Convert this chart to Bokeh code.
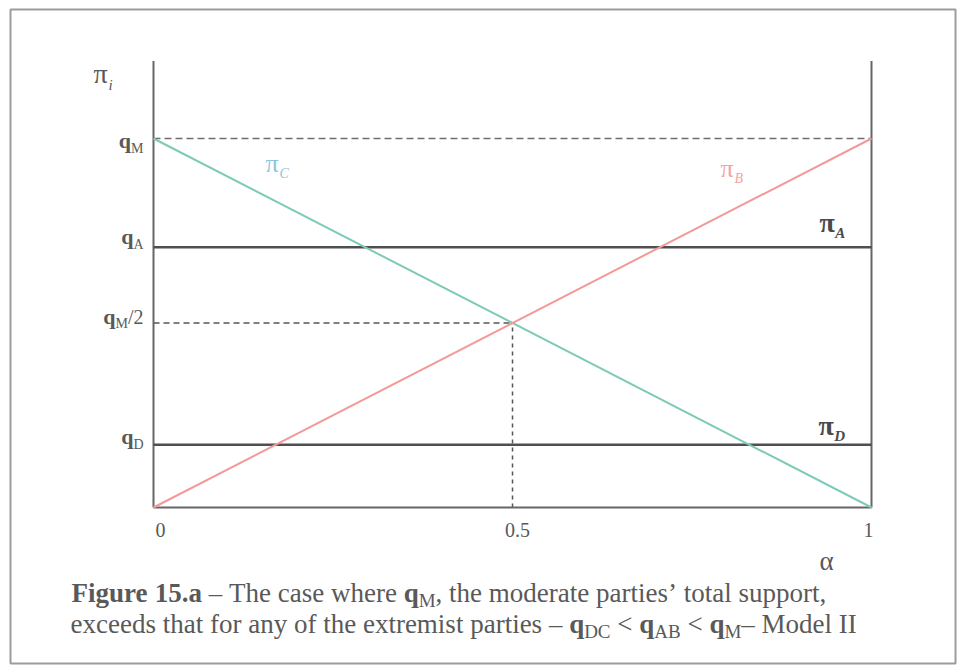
from bokeh.plotting import figure
from bokeh.models import Range1d
from bokeh.core.properties import value
from bokeh.embed import file_html
from bokeh.resources import INLINE

# ---- model quantities (q_M normalised to 1) ----
alpha_ends = [0.0, 1.0]
q_M = 1.0
q_A = 0.705
q_D = 0.17
pi_A = [q_A, q_A]
pi_B = [0.0, q_M]
pi_C = [q_M, 0.0]
pi_D = [q_D, q_D]
alpha_mid = 0.5

x_ticks = [0.0, 0.5, 1.0]
x_tick_labels = ["0", "0.5", "1"]
y_ticks = [q_D, q_M / 2, q_A, q_M]
y_tick_subs = ["D", "M", "A", "M"]
y_tick_suffix = ["", "/2", "", ""]

# ---- page layout (pixels) ----
W, H = 957, 668
X0, XS = 153.0, 718.0      # pixel column of alpha=0 and pixels per unit alpha
Y0, YS = 507.0, 369.0      # pixel row of pi=0 and pixels per unit pi
AXIS_TOP = 1.21            # axes run a little above q_M
BASE_K = 0.36              # baseline correction of the svg text renderer (em)

def dx(px):
    return (px - X0) / XS

def dy(py):
    return (Y0 - py) / YS

p = figure(width=W, height=H,
           x_range=Range1d(dx(0), dx(W)), y_range=Range1d(dy(H), dy(0)),
           x_axis_type=None, y_axis_type=None,
           toolbar_location=None, output_backend="svg",
           outline_line_color=None, background_fill_color="white",
           border_fill_color="white")
p.min_border = 0
p.min_border_left = p.min_border_right = p.min_border_top = p.min_border_bottom = 0

FONT = value("Liberation Serif")
GREY = "#595959"

# Times-compatible advance widths (per 1000 em)
REG = {' ': 250, '–': 500, ',': 250, '.': 250, '’': 333, '<': 564, '/': 278,
       'a': 444, 'b': 500, 'c': 444, 'd': 500, 'e': 444, 'f': 333, 'g': 500,
       'h': 500, 'i': 278, 'j': 278, 'k': 500, 'l': 278, 'm': 778, 'n': 500,
       'o': 500, 'p': 500, 'q': 500, 'r': 333, 's': 389, 't': 278, 'u': 500,
       'v': 500, 'w': 722, 'x': 500, 'y': 500, 'z': 444,
       'A': 722, 'B': 667, 'C': 667, 'D': 722, 'I': 333, 'M': 889, 'T': 611,
       'π': 540}
BOLD = {' ': 250, '.': 250, 'F': 611, 'i': 278, 'g': 500, 'u': 556, 'r': 444,
        'e': 444, 'a': 500, 'q': 556, 'π': 560}

def width(s, size, style):
    tbl = BOLD if "bold" in style else REG
    return sum(tbl.get(ch, REG.get(ch, 500)) for ch in s) * size / 1000.0

def put(x, base, text, size, style, color, align="left"):
    p.text(x=[dx(x)], y=[dy(base - BASE_K * size)], text=[text],
           text_font=FONT, text_font_size=f"{size}px",
           text_font_style=style, text_color=color,
           text_align=align, text_baseline="alphabetic")

def runs(x0, base, parts, color=GREY, align="left"):
    """Lay out rich text runs: (text, size, style, baseline shift px)."""
    total = sum(width(t, s, st) for t, s, st, _ in parts)
    x = x0 - total if align == "right" else x0
    for text, size, style, shift in parts:
        i = 0
        while i < len(text):
            if text[i] == ' ':
                i += 1
                continue
            j = i
            while j < len(text) and text[j] != ' ':
                j += 1
            off = width(text[:i], size, style)
            put(x + off, base + shift, text[i:j], size, style, color)
            i = j
        x += width(text, size, style)

# ---- outer frame ----
p.quad(left=[dx(10)], right=[dx(955)], top=[dy(9)], bottom=[dy(663)],
       fill_color=None, line_color="#9c9c9c", line_width=2)

# ---- reference lines ----
p.line(alpha_ends, [q_M, q_M], line_color="#6e6e6e", line_width=1.5, line_dash="7 4")
p.line([0.0, alpha_mid], [q_M / 2, q_M / 2], line_color="#555555", line_width=1.5,
       line_dash="6 4")
p.line([alpha_mid, alpha_mid], [0.0, q_M / 2], line_color="#555555", line_width=1.5,
       line_dash="4 4")

# ---- axes frame ----
p.line([0.0, 0.0], [0.0, AXIS_TOP], line_color="#666666", line_width=2)
p.line([1.0, 1.0], [0.0, AXIS_TOP], line_color="#666666", line_width=2)
p.line(alpha_ends, [0.0, 0.0], line_color="#666666", line_width=2)

# ---- payoff lines ----
p.line(alpha_ends, pi_A, line_color="#4f4f4f", line_width=2.5)
p.line(alpha_ends, pi_D, line_color="#4f4f4f", line_width=2.5)
p.line(alpha_ends, pi_C, line_color="#7ccab7", line_width=2)
p.line(alpha_ends, pi_B, line_color="#f39a98", line_width=2)

# ---- y tick labels ----
y_shift = [0, 1, -3, 10]
for v, sub, suf, sh in zip(y_ticks, y_tick_subs, y_tick_suffix, y_shift):
    base = Y0 - v * YS + sh
    parts = [("q", 22, "bold", 0), (sub, 14, "normal", 5)]
    if suf:
        parts.append((suf, 20, "normal", 0))
    runs(143, base, parts, align="right")

# ---- x tick labels ----
x_shift = [7, 5, -3]
p.text(x=x_ticks, y=[dy(537 - BASE_K * 20)] * 3, text=x_tick_labels, x_offset=x_shift,
       text_font=FONT, text_font_size="20px", text_color=GREY,
       text_align="center", text_baseline="alphabetic")

# ---- axis titles ----
runs(93, 83, [("π", 28, "normal", 0), ("i", 15, "italic", 7)])
put(826, 570, "α", 27, "normal", GREY, align="center")

# ---- line labels ----
runs(265, 172, [("π", 26, "normal", 0), ("C", 14, "italic", 6)], color="#8ec5dc")
runs(720, 177, [("π", 26, "normal", 0), ("B", 14, "italic", 6)], color="#f4a3a3")
runs(819, 232, [("π", 28, "bold", 0), ("A", 15, "bold italic", 6)], color="#4a4a4a")
runs(818, 435, [("π", 28, "bold", 0), ("D", 15, "bold italic", 6)], color="#4a4a4a")

# ---- caption ----
CAP, SUB = 27, 19
runs(71, 602, [("Figure 15.a", CAP, "bold", 0),
               (" – The case where ", CAP, "normal", 0),
               ("q", CAP, "bold", 0),
               ("M", SUB, "normal", 5),
               (", the moderate parties’ total support,", CAP, "normal", 0)])
runs(70, 633, [("exceeds that for any of the extremist parties – ", CAP, "normal", 0),
               ("q", CAP, "bold", 0), ("DC", SUB, "normal", 5),
               (" < ", CAP, "normal", 0),
               ("q", CAP, "bold", 0), ("AB", SUB, "normal", 5),
               (" < ", CAP, "normal", 0),
               ("q", CAP, "bold", 0), ("M", SUB, "normal", 5),
               ("– Model II", CAP, "normal", 0)])

open("out.html", "w").write(file_html(p, INLINE))
